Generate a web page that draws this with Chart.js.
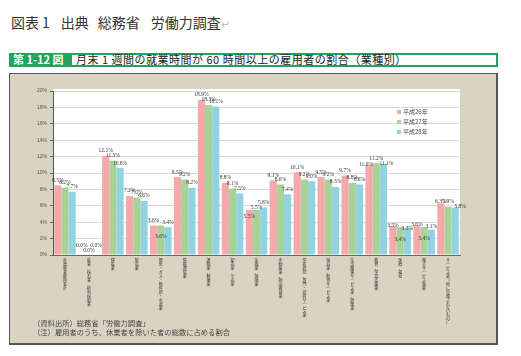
<!DOCTYPE html>
<html><head><meta charset="utf-8">
<script src="https://cdn.jsdelivr.net/npm/chart.js@4.4.0/dist/chart.umd.min.js"></script>
<style>
html,body{margin:0;padding:0;background:#fff;width:521px;height:356px;overflow:hidden;font-family:"Noto Sans CJK JP","Noto Sans",sans-serif;}
#title{position:absolute;left:11px;top:12px;font-size:14px;color:#333;white-space:nowrap;line-height:20px;}
#title .ret{color:#bbb;font-size:11px;}
#bar{position:absolute;left:9px;top:53px;width:489px;height:14px;background:#23a35c;}
#barlab{position:absolute;left:13px;top:52px;height:15px;line-height:15px;color:#fff;font-weight:bold;font-size:11px;white-space:nowrap;}
#barbox{position:absolute;left:72px;top:55px;width:424px;height:10px;background:#fff;}
#bartext{position:absolute;left:76px;top:52px;height:15px;line-height:15px;font-size:11px;color:#222;white-space:nowrap;letter-spacing:0.5px;}
#panel{position:absolute;left:9px;top:73px;width:486px;height:269px;background:#d9d3c2;border:1px solid #555;border-right-width:2px;border-bottom-width:2px;}
#chart{position:absolute;left:10px;top:74px;}
#notes{position:absolute;left:33px;top:319px;font-size:7.3px;line-height:9px;color:#444;white-space:nowrap;}
</style></head>
<body>
<div id="title">図表<span style="margin-left:3px">1</span><span style="margin-left:11px">出典</span><span style="margin-left:9px">総務省</span><span style="margin-left:11px">労働力調査</span><span class="ret">↵</span></div>
<div id="bar"></div>
<div id="barbox"></div>
<div id="barlab">第 1-12 図</div>
<div id="bartext">月末 1 週間の就業時間が 60 時間以上の雇用者の割合（業種別）</div>
<div id="panel"></div>
<canvas id="chart" width="485" height="268"></canvas>
<div id="notes">（資料出所）総務省「労働力調査」<br>（注）雇用者のうち、休業者を除いた者の総数に占める割合</div>
<script>
const categories = [
  "非農林業雇用者計",
  "鉱業，採石業，砂利採取業",
  "建設業",
  "製造業",
  "電気・ガス・熱供給・水道業",
  "情報通信業",
  "運輸業，郵便業",
  "卸売業，小売業",
  "金融業，保険業",
  "不動産業，物品賃貸業",
  "学術研究，専門・技術サービス業",
  "宿泊業，飲食サービス業",
  "生活関連サービス業，娯楽業",
  "教育，学習支援業",
  "医療，福祉",
  "複合サービス事業",
  "サービス業（他に分類されないもの）"
];
const seriesNames = ["平成26年", "平成27年", "平成28年"];
const h26 = [8.5, 0.0, 12.1, 7.2, 3.6, 9.5, 18.9, 8.8, 5.5, 9.1, 10.1, 9.5, 9.7, 11.0, 3.5, 3.6, 6.3];
const h27 = [8.2, 0.0, 11.5, 7.0, 3.6, 9.2, 18.3, 8.1, 5.5, 8.6, 9.2, 9.2, 8.8, 11.2, 3.4, 3.4, 5.9];
const h28 = [7.7, 0.0, 10.6, 6.6, 3.4, 8.2, 18.1, 7.5, 5.8, 7.4, 9.0, 8.3, 8.6, 11.1, 3.3, 3.1, 5.8];
const yMin = 0, yMax = 20, yStep = 2;

const colors = ["#f5a9aa", "#a9d396", "#92d3e3"];
// label placement tweaks (style only): "dataset-index"
const labelNudge = {
  "0-1": {dy: -4}, "2-1": {dy: -4}, "1-1": {dy: 1},
  "1-4": {dy: 16},
  "0-8": {dy: 12}, "1-8": {dy: 3},
  "0-13": {dx: -3, dy: 5}, "2-13": {dx: 3, dy: 5},
  "0-14": {dy: 4}, "1-14": {dy: 17}, "2-14": {dy: 6},
  "0-15": {dy: 4}, "1-15": {dy: 16}, "2-15": {dy: 2},
  "0-16": {dy: 3}, "2-16": {dx: 5, dy: 4}
};

const plotBg = {
  id: "plotBg",
  beforeDraw(chart) {
    const {ctx, chartArea: a} = chart;
    ctx.save();
    ctx.fillStyle = "#fff";
    ctx.fillRect(a.left, a.top - 2, a.right - a.left, a.bottom - a.top + 2);
    ctx.restore();
  }
};
const barLabels = {
  id: "barLabels",
  afterDatasetsDraw(chart) {
    const ctx = chart.ctx;
    ctx.save();
    ctx.font = "5.5px 'Liberation Serif', serif";
    ctx.fillStyle = "#333";
    ctx.textAlign = "center";
    ctx.textBaseline = "middle";
    chart.data.datasets.forEach((ds, di) => {
      chart.getDatasetMeta(di).data.forEach((el, i) => {
        const n = labelNudge[di + "-" + i] || {};
        ctx.fillText(ds.data[i].toFixed(1) + "%", el.x + (n.dx || 0), el.y - 5 + (n.dy || 0));
      });
    });
    ctx.restore();
  }
};
const legendBox = {
  id: "legendBox",
  afterDraw(chart) {
    const ctx = chart.ctx, a = chart.chartArea;
    ctx.save();
    ctx.font = "6px 'Noto Sans CJK JP', sans-serif";
    ctx.textBaseline = "middle";
    chart.data.datasets.forEach((ds, i) => {
      const x = a.right - 63, y = a.top + 21 + i * 10;
      ctx.fillStyle = ds.backgroundColor;
      ctx.fillRect(x, y - 2, 4, 4);
      ctx.fillStyle = "#444";
      ctx.fillText(ds.label, x + 6, y);
    });
    ctx.restore();
  }
};

new Chart(document.getElementById("chart"), {
  type: "bar",
  data: {
    labels: categories.map(c => c.split("")),
    datasets: [h26, h27, h28].map((d, i) => ({
      label: seriesNames[i], data: d, backgroundColor: colors[i], borderWidth: 0,
      categoryPercentage: 0.9, barPercentage: 1.0
    }))
  },
  options: {
    responsive: false, animation: false, devicePixelRatio: 1,
    layout: {padding: {top: 17, right: 35, left: 0, bottom: 0}},
    plugins: {legend: {display: false}, tooltip: {enabled: false}},
    scales: {
      x: {
        grid: {display: false, drawTicks: false},
        border: {display: true, color: "#666", width: 1},
        ticks: {autoSkip: false, maxRotation: 0, minRotation: 0, padding: 4, color: "#333",
                font: {family: "'Noto Sans CJK JP', sans-serif", size: 4, lineHeight: 0.98}},
        afterFit(s) { s.height = 87; }
      },
      y: {
        min: yMin, max: yMax,
        grid: {color: "#d9d9d9", lineWidth: 1, tickLength: 3, tickColor: "#666"},
        border: {display: true, color: "#555", width: 1},
        ticks: {stepSize: yStep, padding: 3, color: "#555", callback: v => v + "%",
                font: {family: "'Liberation Sans', sans-serif", size: 5}},
        afterFit(s) { s.width = 43; }
      }
    }
  },
  plugins: [plotBg, barLabels, legendBox]
});
</script>
</body></html>
